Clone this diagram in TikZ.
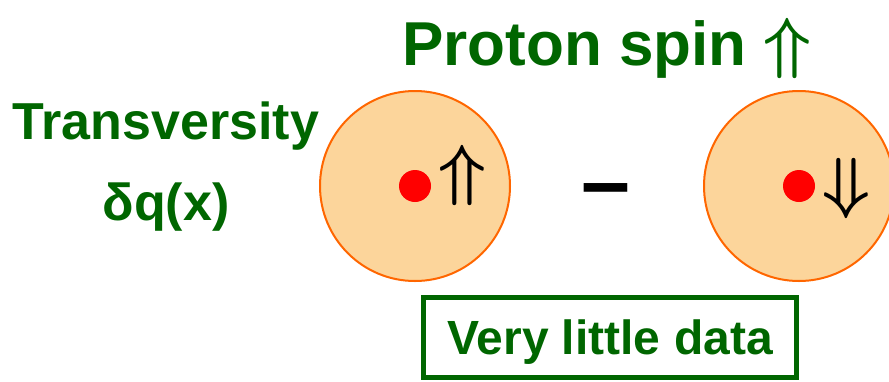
\documentclass[tikz,border=0pt]{standalone}
\usepackage{fix-cm}
\usepackage{fontspec}
\setmainfont{Liberation Sans}
\usepackage{xcolor}
\usetikzlibrary{positioning}
\definecolor{dgreen}{HTML}{006600}
\definecolor{pfill}{HTML}{FCD59B}
\definecolor{pedge}{HTML}{FF6600}

\begin{document}
\begin{tikzpicture}[x=1pt, y=-1pt,
  title/.style={text=dgreen, font=\fontsize{62}{70}\selectfont\bfseries, inner sep=0pt, anchor=base},
  label/.style={text=dgreen, font=\fontsize{52}{60}\selectfont\bfseries, inner sep=0pt, anchor=base},
  proton/.style={circle, draw=pedge, fill=pfill, line width=2pt, minimum size=190pt, inner sep=0pt},
  quark/.style={circle, fill=red, minimum size=32pt, inner sep=0pt},
  spin/.style={font=\fontsize{68}{70}\selectfont\boldmath, inner sep=0pt}]
\useasboundingbox (0,0) rectangle (889,381);
\node[title] (ttl) at (607,65) {Proton spin {\fontsize{68}{70}\selectfont\boldmath$\Uparrow$}};
\node[label] (tv) at (166,139) {Transversity};
\node[label] (dq) at (166,220) {δq(x)};
% the two proton states
\node[proton] (pup) at (415,186) {};
\node[quark] (qup) at (pup.center) {};
\node[spin, at={(qup.center)}, xshift=47.5pt, yshift=11pt] (sup) {$\Uparrow$};
\node[proton] (pdn) at (799,186) {};
\node[quark] (qdn) at (pdn.center) {};
\node[spin, at={(qdn.center)}, xshift=47.5pt, yshift=-2pt] (sdn) {$\Downarrow$};
\node[font=\fontsize{88}{90}\selectfont\bfseries, inner sep=0pt, anchor=base] (minus) at (606,211) {–};
\node[draw=dgreen, line width=5pt, text=dgreen, font=\fontsize{48}{60}\selectfont\bfseries,
      minimum width=373pt, minimum height=80pt, text depth=0pt] (data) at (610,337.5) {Very little data};
\end{tikzpicture}
\end{document}
